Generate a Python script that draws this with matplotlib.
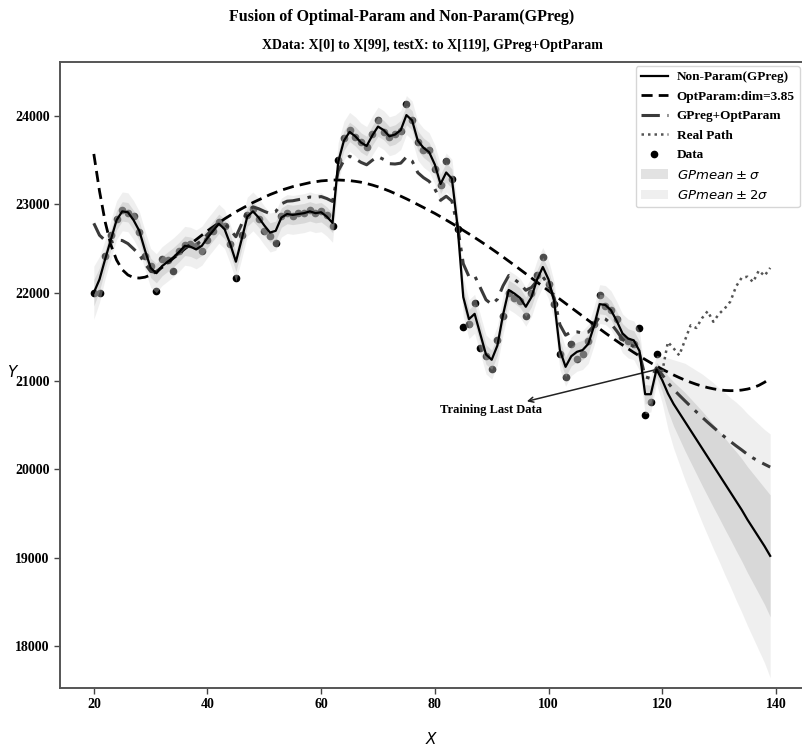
import numpy as np
import matplotlib
matplotlib.use("Agg")
import matplotlib.pyplot as plt
from matplotlib.patches import Patch
from matplotlib.lines import Line2D

# ---- data -------------------------------------------------------------
x_train = np.arange(20, 120)          # X[0] .. X[99]
x_test = np.arange(120, 140)          # forecast horizon up to X[119]
x_all = np.arange(20, 140)

data_y = [
    22000, 22000, 22420, 22650, 22830, 22940, 22900, 22870, 22690, 22420,
    22300, 22020, 22380, 22370, 22250, 22470, 22540, 22550, 22530, 22470,
    22600, 22700, 22800, 22760, 22550, 22170, 22650, 22880, 22950, 22830,
    22700, 22640, 22560, 22870, 22900, 22870, 22900, 22900, 22930, 22900,
    22920, 22880, 22760, 23500, 23750, 23840, 23760, 23700, 23650, 23800,
    23950, 23820, 23760, 23800, 23830, 24130, 23950, 23700, 23620, 23620,
    23400, 23220, 23490, 23290, 22720, 21610, 21650, 21880, 21370, 21280,
    21140, 21460, 21730, 22000, 21940, 21900, 21740, 22000, 22200, 22400,
    22100, 21870, 21300, 21040, 21420, 21250, 21300, 21450, 21650, 21970,
    21850, 21800, 21700, 21500, 21450, 21420, 21600, 20610, 20760, 21310,
]

gp_mean = [
    22000, 22150, 22380, 22600, 22820, 22920, 22910, 22820, 22700, 22480,
    22280, 22220, 22300, 22350, 22400, 22460, 22530, 22520, 22490, 22530,
    22620, 22700, 22780, 22720, 22550, 22350, 22600, 22860, 22920, 22850,
    22760, 22680, 22700, 22850, 22890, 22880, 22890, 22900, 22920, 22900,
    22910, 22860, 22790, 23480, 23720, 23820, 23770, 23700, 23660, 23780,
    23880, 23840, 23770, 23790, 23840, 24010, 23950, 23720, 23640, 23590,
    23450, 23230, 23360, 23290, 22750, 21950, 21700, 21760, 21530, 21300,
    21240, 21400, 21750, 22030, 21990, 21940, 21840, 21950, 22150, 22290,
    22150, 21900, 21350, 21160, 21280, 21330, 21350, 21420, 21620, 21870,
    21860, 21800, 21680, 21540, 21480, 21460, 21340, 20850, 20850, 21130,
    # forecast
    21010, 20860, 20740, 20640, 20540, 20440, 20340, 20240, 20140, 20040,
    19940, 19840, 19740, 19640, 19540, 19430, 19330, 19230, 19130, 19020,
]

gp_sigma = [
    150, 130, 110, 110, 110, 110, 110, 110, 110, 110,
    110, 110, 110, 110, 110, 110, 110, 110, 110, 110,
    110, 110, 110, 110, 110, 110, 110, 110, 110, 110,
    110, 110, 110, 110, 110, 110, 110, 110, 110, 110,
    110, 110, 110, 110, 110, 110, 110, 110, 110, 110,
    110, 110, 110, 110, 110, 110, 110, 110, 110, 110,
    110, 110, 110, 110, 110, 110, 110, 110, 110, 110,
    110, 110, 110, 110, 110, 110, 110, 110, 110, 110,
    110, 110, 110, 110, 110, 110, 110, 110, 110, 110,
    110, 110, 110, 110, 110, 110, 110, 110, 100, 80,
    # forecast
    130, 200, 250, 290, 330, 360, 390, 420, 445, 470,
    490, 515, 535, 560, 580, 600, 620, 640, 660, 690,
]

opt_param = [
    23570, 23150, 22800, 22540, 22370, 22260, 22200, 22170, 22165, 22175,
    22200, 22240, 22285, 22335, 22390, 22440, 22495, 22550, 22600, 22650,
    22700, 22745, 22790, 22835, 22875, 22915, 22950, 22985, 23020, 23050,
    23080, 23110, 23135, 23160, 23180, 23200, 23215, 23230, 23245, 23255,
    23265, 23270, 23275, 23275, 23272, 23268, 23260, 23250, 23235, 23218,
    23198, 23175, 23150, 23122, 23092, 23062, 23030, 22997, 22964, 22930,
    22897, 22860, 22822, 22784, 22745, 22705, 22665, 22624, 22582, 22539,
    22495, 22450, 22404, 22357, 22310, 22262, 22214, 22166, 22118, 22070,
    22022, 21974, 21926, 21878, 21830, 21782, 21734, 21686, 21638, 21590,
    21543, 21497, 21452, 21408, 21365, 21323, 21282, 21243, 21205, 21168,
    21133, 21100, 21068, 21038, 21010, 20985, 20962, 20942, 20925, 20911,
    20900, 20893, 20890, 20891, 20897, 20908, 20924, 20950, 20985, 21030,
]

real_path = [
    21100, 21440, 21370, 21290, 21460, 21630, 21600, 21710, 21790, 21670,
    21760, 21820, 21900, 22070, 22170, 22180, 22120, 22250, 22190, 22280,
]

gp_mean = np.array(gp_mean, dtype=float)
gp_sigma = np.array(gp_sigma, dtype=float)
opt_param = np.array(opt_param, dtype=float)
# fused estimate: mean of the non-parametric and parametric curves
fusion = (gp_mean + opt_param) / 2.0

# ---- style ------------------------------------------------------------
plt.rcParams["font.family"] = "serif"
plt.rcParams["font.serif"] = ["Liberation Serif", "DejaVu Serif"]
plt.rcParams["mathtext.fontset"] = "dejavusans"

BOLD = dict(fontweight="bold")
C_2SIG, A_2SIG = "#d4d4d4", 0.36
C_1SIG, A_1SIG = "#b3b3b3", 0.375
DASH = (0, (4, 2.2))
DASHDOT = (0, (6, 2.5, 1.2, 2.5))
DOTTED = (0, (1, 1.6))

fig = plt.figure(figsize=(8.03, 7.5), dpi=100)
ax = fig.add_axes([60 / 803, 62 / 750, 744 / 803, 626 / 750])

# observations (drawn underneath the confidence bands)
ax.plot(x_train, data_y, "k.", markersize=9, zorder=1)

ax.fill_between(x_all, gp_mean - 2 * gp_sigma, gp_mean + 2 * gp_sigma,
                color=C_2SIG, alpha=A_2SIG, linewidth=0, zorder=2)
ax.fill_between(x_all, gp_mean - gp_sigma, gp_mean + gp_sigma,
                color=C_1SIG, alpha=A_1SIG, linewidth=0, zorder=3)

ax.plot(x_all, opt_param, color="black", linestyle=DASH, linewidth=2.0,
        zorder=5)
ax.plot(x_all, fusion, color="#3a3a3a", linestyle=DASHDOT, linewidth=2.2,
        zorder=6)
ax.plot(x_test, real_path, color="#555555", linestyle=DOTTED, linewidth=1.8,
        zorder=5)
ax.plot(x_all, gp_mean, color="black", linewidth=1.6, zorder=7)

ax.annotate("Training Last Data", xy=(x_train[-1], gp_mean[len(x_train) - 1]),
            xytext=(89.9, 20670), ha="center", va="center",
            fontsize=9, **BOLD,
            arrowprops=dict(arrowstyle="<-", color="#222222", lw=1.1,
                            shrinkA=0, shrinkB=0))

ax.set_xlim(14.05, 144.95)
ax.set_ylim(17524, 24611)
ax.set_xticks([20, 40, 60, 80, 100, 120, 140])
ax.set_yticks([18000, 19000, 20000, 21000, 22000, 23000, 24000])
ax.tick_params(labelsize=10, length=4, width=1.0, color="#444444")
for lab in ax.get_xticklabels() + ax.get_yticklabels():
    lab.set_fontweight("bold")

for side in ["left", "bottom", "top", "right"]:
    ax.spines[side].set_color("#555555")
    ax.spines[side].set_linewidth(1.4)

ax.set_xlabel("$X$", fontsize=11, labelpad=14)
ax.set_ylabel("$Y$", fontsize=11, rotation=0, ha="center", va="center")
ax.yaxis.set_label_coords(-0.063, 0.505)

ax.set_title("XData: X[0] to X[99], testX: to X[119], GPreg+OptParam",
             fontsize=10, pad=9, **BOLD)
fig.suptitle("Fusion of Optimal-Param and Non-Param(GPreg)",
             fontsize=11.5, y=0.988, **BOLD)

handles = [
    Line2D([], [], color="black", linewidth=1.6),
    Line2D([], [], color="black", linestyle=DASH, linewidth=2.0),
    Line2D([], [], color="#3a3a3a", linestyle=DASHDOT, linewidth=2.2),
    Line2D([], [], color="#555555", linestyle=DOTTED, linewidth=1.8),
    Line2D([], [], color="black", marker=".", linestyle="none",
           markersize=9),
    Patch(facecolor=C_1SIG, alpha=A_1SIG, linewidth=0),
    Patch(facecolor=C_2SIG, alpha=A_2SIG, linewidth=0),
]
labels = [
    "Non-Param(GPreg)",
    "OptParam:dim=3.85",
    "GPreg+OptParam",
    "Real Path",
    "Data",
    r"$GPmean \pm \sigma$",
    r"$GPmean \pm 2\sigma$",
]
leg = ax.legend(handles, labels, loc="upper right", fontsize=9.5,
                borderaxespad=0.3, handlelength=2.0, handletextpad=0.7,
                labelspacing=0.55)
for t in leg.get_texts()[:5]:
    t.set_fontweight("bold")

fig.savefig("out.png", dpi=100)
